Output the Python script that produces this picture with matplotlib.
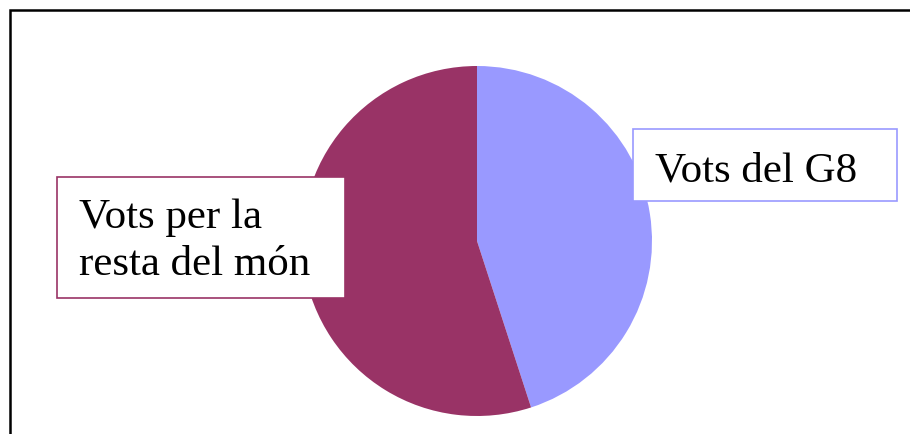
import matplotlib
matplotlib.use("Agg")
import matplotlib.pyplot as plt
from matplotlib.patches import Rectangle

# dades
labels = ["Vots del G8", "Vots per la\nresta del món"]
values = [45, 55]
colors = ["#9999FF", "#993366"]

W, H = 910, 434
fig = plt.figure(figsize=(W / 100, H / 100), dpi=100)

# pastis: centre (477, 241), radi 175 px
cx, cy, r = 477, 241, 175
ax = fig.add_axes([(cx - r) / W, (H - cy - r) / H, 2 * r / W, 2 * r / H])
ax.pie(values, colors=colors, startangle=90, counterclock=False,
       wedgeprops=dict(linewidth=0))
ax.set_xlim(-1, 1)
ax.set_ylim(-1, 1)
ax.axis("off")

# capa de sobre en pixels per al marc i les etiquetes
ov = fig.add_axes([0, 0, 1, 1], zorder=5)
ov.set_xlim(0, W)
ov.set_ylim(H, 0)
ov.axis("off")
ov.patch.set_alpha(0)

# marc exterior
ov.plot([10, 10, W + 5], [H + 5, 10, 10], color="black", lw=1.8,
        solid_joinstyle="miter", clip_on=False)

serif = ["Liberation Serif", "DejaVu Serif"]

# etiqueta G8
ov.add_patch(Rectangle((633, 129), 264, 72, facecolor="white",
                       edgecolor=colors[0], lw=1.2))
ov.text(655, 182, labels[0], fontsize=31, family=serif, va="baseline")

# etiqueta resta del mon
ov.add_patch(Rectangle((57, 177), 288, 121, facecolor="white",
                       edgecolor=colors[1], lw=1.2))
l1, l2 = labels[1].split("\n")
ov.text(79, 228, l1, fontsize=31, family=serif, va="baseline")
ov.text(79, 275, l2, fontsize=31, family=serif, va="baseline")

fig.savefig("out.png", dpi=100)
